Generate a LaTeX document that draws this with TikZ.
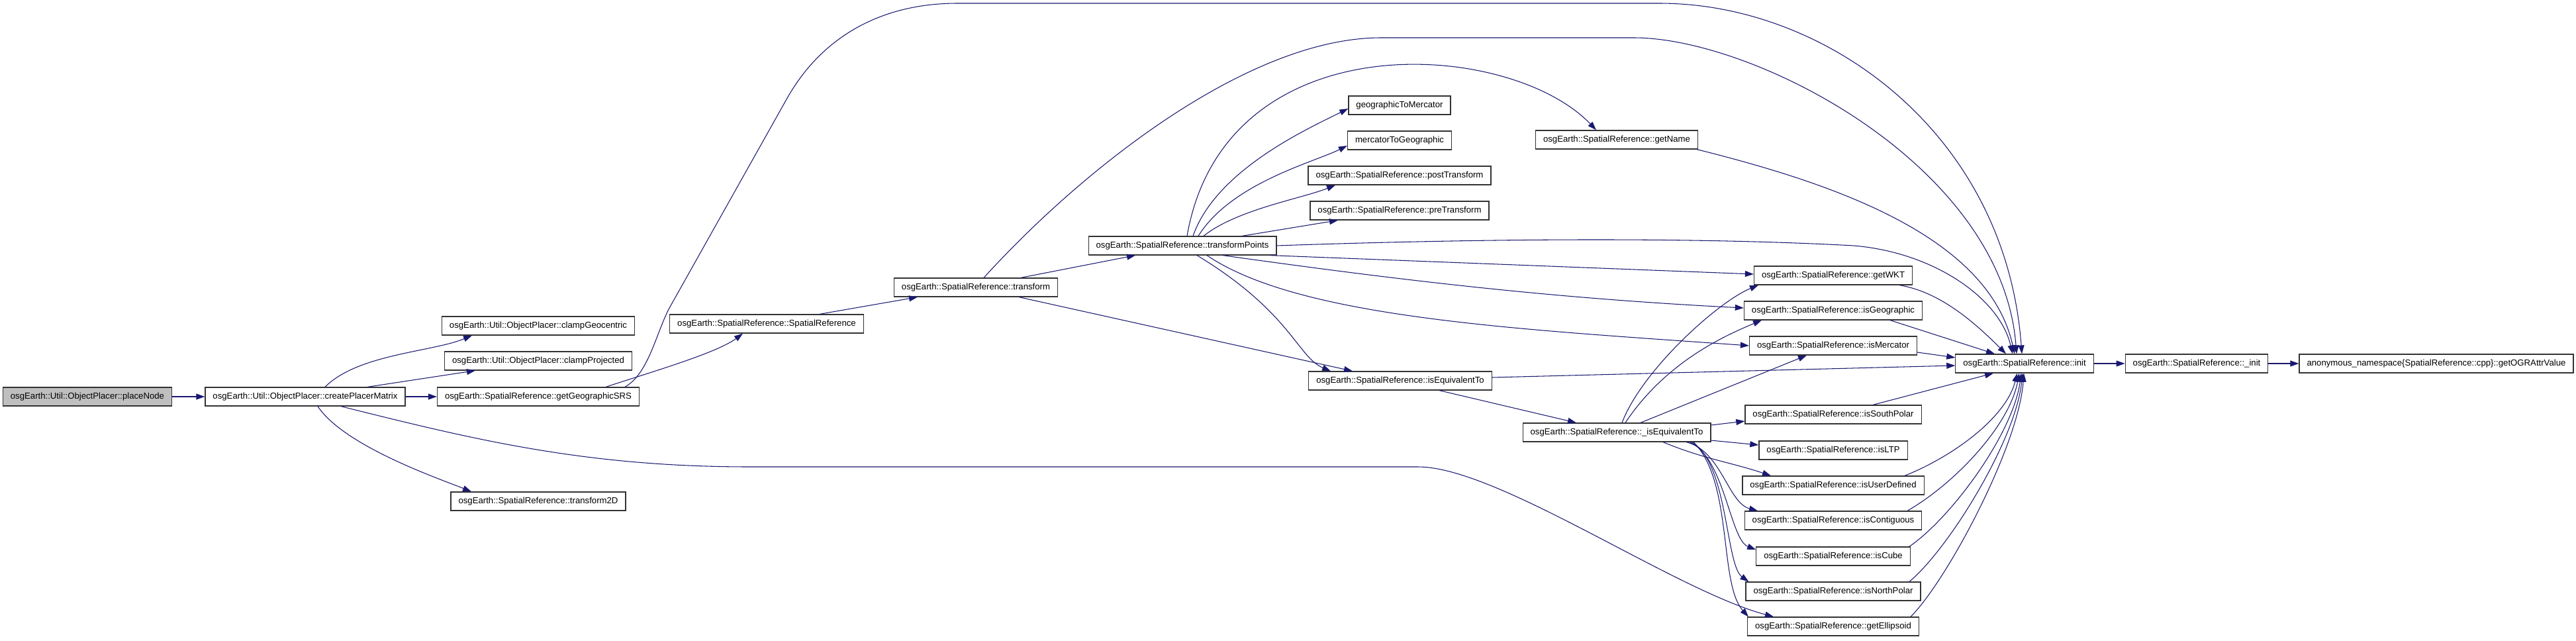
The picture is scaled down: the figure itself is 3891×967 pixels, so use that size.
\documentclass[tikz,border=0pt]{standalone}
\usepackage{fontspec}
\setmainfont{Liberation Sans}
\usetikzlibrary{arrows.meta, calc}
\definecolor{cgEdge}{RGB}{25, 25, 112}
\definecolor{cgRoot}{RGB}{191, 191, 191}

\begin{document}
\begin{tikzpicture}[x=0.02cm, y=-0.02cm,
    fn/.style={draw=black!80, line width=0.7pt, fill=white, minimum height=0.56cm,
      inner xsep=0.23cm, inner ysep=0pt, font=\fontsize{7.5}{9}\selectfont},
    root/.style={fn, fill=cgRoot},
    call/.style={cgEdge, line width=0.6pt, -{Triangle[length=2.6mm, width=1.8mm]}}]
\useasboundingbox (0,0) rectangle (3891,967);

% callers, left to right
\node[root] (pn) at (132,599) {osgEarth::Util::ObjectPlacer::placeNode};
\node[fn] (cpm) at (461,599) {osgEarth::Util::ObjectPlacer::createPlacerMatrix};
\node[fn] (cgc) at (813,492) {osgEarth::Util::ObjectPlacer::clampGeocentric};
\node[fn] (cpj) at (813,545) {osgEarth::Util::ObjectPlacer::clampProjected};
\node[fn] (ggs) at (813,599) {osgEarth::SpatialReference::getGeographicSRS};
\node[fn] (t2d) at (813,757) {osgEarth::SpatialReference::transform2D};
\node[fn] (src) at (1158,489) {osgEarth::SpatialReference::SpatialReference};
\node[fn] (tf) at (1474,434) {osgEarth::SpatialReference::transform};
\node[fn] (tfp) at (1786,371) {osgEarth::SpatialReference::transformPoints};
\node[fn] (g2m) at (2114,159) {geographicToMercator};
\node[fn] (m2g) at (2114,212) {mercatorToGeographic};
\node[fn] (post) at (2114,265) {osgEarth::SpatialReference::postTransform};
\node[fn] (pre) at (2114,318) {osgEarth::SpatialReference::preTransform};
\node[fn] (iseq) at (2115,575) {osgEarth::SpatialReference::isEquivalentTo};
\node[fn] (gname) at (2442,211) {osgEarth::SpatialReference::getName};
\node[fn] (iseqi) at (2442,653) {osgEarth::SpatialReference::\_isEquivalentTo};

% leaves of the SRS checks
\node[fn] (wkt) at (2769,416) {osgEarth::SpatialReference::getWKT};
\node[fn] (isgeo) at (2769,469) {osgEarth::SpatialReference::isGeographic};
\node[fn] (ismerc) at (2769,522) {osgEarth::SpatialReference::isMercator};
\node[fn] (isp) at (2769,626) {osgEarth::SpatialReference::isSouthPolar};
\node[fn] (isltp) at (2769,680) {osgEarth::SpatialReference::isLTP};
\node[fn] (isud) at (2769,733) {osgEarth::SpatialReference::isUserDefined};
\node[fn] (iscont) at (2769,786) {osgEarth::SpatialReference::isContiguous};
\node[fn] (iscube) at (2769,840) {osgEarth::SpatialReference::isCube};
\node[fn] (isnp) at (2769,893) {osgEarth::SpatialReference::isNorthPolar};
\node[fn] (gell) at (2769,946) {osgEarth::SpatialReference::getEllipsoid};
\node[fn] (init) at (3058,549) {osgEarth::SpatialReference::init};
\node[fn] (uinit) at (3318,549) {osgEarth::SpatialReference::\_init};
\node[fn] (ogr) at (3680,549) {anonymous\_namespace\{SpatialReference::cpp\}::getOGRAttrValue};

% placeNode / createPlacerMatrix
\draw[call] (pn) -- (cpm);
\draw[call] ($(cpm.north)+(30,0)$) .. controls +(50,-50) and +(-60,25) .. ($(cgc.south)+(-100,0)$);
\draw[call] ($(cpm.north)+(94,0)$) -- ($(cpj.south)+(-95,0)$);
\draw[call] (cpm) -- (ggs);
\draw[call] ($(cpm.south)+(19,0)$) .. controls +(40,60) and +(-50,-20) .. ($(t2d.north)+(-101,0)$);
\draw[call] ($(cpm.south)+(54,0)$) .. controls +(200,50) and +(-250,0) .. (1133,705) -- (2142,705)
  .. controls +(120,0) and +(-150,-40) .. ($(gell.north)+(-90,0)$);

% getGeographicSRS
\draw[call] ($(ggs.north)+(102,0)$) .. controls +(60,-20) and +(-40,30) .. ($(src.south)+(-36,0)$);
\draw[call] ($(ggs.north)+(131,0)$) .. controls +(35,-20) and +(-20,40) .. (1010,467) -- (1188,150)
  .. controls +(50,-90) and +(-120,0) .. (1446,5) -- (2507,5)
  .. controls +(250,0) and +(-25,-335) .. ($(init.north)+(-4,0)$);

% SpatialReference / transform
\draw[call] ($(src.north)+(80,0)$) -- ($(tf.south)+(-88,0)$);
\draw[call] ($(tf.north)+(68,0)$) -- ($(tfp.south)+(-71,0)$);
\draw[call] ($(tf.south)+(65,0)$) -- ($(iseq.north)+(-72,0)$);
\draw[call] ($(tf.north)+(12,0)$) .. controls +(150,-165) and +(-200,0) .. (2086,57) -- (2468,57)
  .. controls +(182,0) and +(-22,-285) .. ($(init.north)+(-12,0)$);

% transformPoints
\draw[call] ($(tfp.north)+(16,0)$) .. controls +(35,-100) and +(-60,30) .. ($(g2m.west)+(0,5)$);
\draw[call] ($(tfp.north)+(24,0)$) .. controls +(50,-80) and +(-50,25) .. ($(m2g.west)+(0,8)$);
\draw[call] ($(tfp.north)+(32,0)$) .. controls +(50,-40) and +(-50,20) .. ($(post.south)+(-97,0)$);
\draw[call] ($(tfp.north)+(90,0)$) -- ($(pre.south)+(-93,0)$);
\draw[call] ($(tfp.north)+(7,0)$) .. controls +(57,-327) and +(-131,-137) .. ($(gname.north)+(-31,0)$);
\draw[call] (tfp.east) .. controls +(373,-13) and +(-200,-11) .. (2800,371)
  .. controls +(120,10) and +(-20,-85) .. ($(init.north)+(-18,0)$);
\draw[call] ($(tfp.south east)+(-10,0)$) -- ($(wkt.west)+(0,-2)$);
\draw[call] ($(tfp.south)+(61,0)$) .. controls +(250,35) and +(-300,-15) .. ($(isgeo.west)+(0,-4)$);
\draw[call] ($(tfp.south)+(37,0)$) .. controls +(140,95) and +(-350,-25) .. (ismerc.west);
\draw[call] ($(tfp.south)+(22,0)$) .. controls +(142,86) and +(-50,-21) .. ($(iseq.north)+(-105,0)$);

% isEquivalentTo / _isEquivalentTo
\draw[call] ($(iseq.south)+(59,0)$) -- ($(iseqi.north)+(-61,0)$);
\draw[call] ($(iseq.east)+(0,-5)$) -- ($(init.west)+(0,3)$);
\draw[call] ($(iseqi.north)+(8,0)$) .. controls +(30,-79) and +(-61,25) .. ($(wkt.south)+(-113,0)$);
\draw[call] ($(iseqi.north)+(13,0)$) .. controls +(60,-90) and +(-60,25) .. ($(isgeo.south)+(-108,0)$);
\draw[call] ($(iseqi.north)+(36,0)$) -- ($(ismerc.south)+(-40,0)$);
\draw[call] ($(iseqi.east)+(0,-11)$) -- ($(isp.west)+(0,10)$);
\draw[call] ($(iseqi.east)+(0,12)$) -- ($(isltp.west)+(0,-8)$);
\draw[call] ($(iseqi.south)+(70,0)$) .. controls +(60,25) and +(-60,-20) .. ($(isud.north)+(-94,0)$);
\draw[call] ($(iseqi.south)+(105,0)$) .. controls +(53,13) and +(-45,-12) .. ($(iscont.north)+(-114,0)$);
\draw[call] ($(iseqi.south)+(110,0)$) .. controls +(53,23) and +(-39,-15) .. ($(iscube.west)+(0,-10)$);
\draw[call] ($(iseqi.south)+(113,0)$) .. controls +(55,30) and +(-35,-25) .. ($(isnp.north west)+(5,0)$);
\draw[call] ($(iseqi.south)+(116,0)$) .. controls +(60,60) and +(-45,-50) .. ($(gell.north west)+(2,0)$);

% everything into init
\draw[call] ($(gname.south east)+(-2,0)$) .. controls +(200,50) and +(-40,-180) .. ($(init.north)+(-15,0)$);
\draw[call] ($(wkt.south)+(100,0)$) .. controls +(60,10) and +(-50,-50) .. ($(init.north)+(-28,0)$);
\draw[call] ($(isgeo.south)+(86,0)$) -- ($(init.north)+(-45,0)$);
\draw[call] ($(ismerc.east)+(0,10)$) -- ($(init.west)+(0,-9)$);
\draw[call] ($(isp.north)+(60,0)$) -- ($(init.south)+(-47,0)$);
\draw[call] ($(isud.north)+(108,0)$) .. controls +(73,-29) and +(-17,67) .. ($(init.south)+(-11,0)$);
\draw[call] ($(iscont.north)+(112,0)$) .. controls +(70,-40) and +(-15,80) .. ($(init.south)+(-8,0)$);
\draw[call] ($(iscube.north)+(115,0)$) .. controls +(65,-45) and +(-12,90) .. ($(init.south)+(-5,0)$);
\draw[call] ($(isnp.north)+(115,0)$) .. controls +(60,-50) and +(-10,100) .. ($(init.south)+(-3,0)$);
\draw[call] ($(gell.north)+(117,0)$) .. controls +(55,-55) and +(-8,110) .. ($(init.south)+(-1,0)$);
\draw[call] (init) -- (uinit);
\draw[call] (uinit) -- (ogr);
\end{tikzpicture}
\end{document}
